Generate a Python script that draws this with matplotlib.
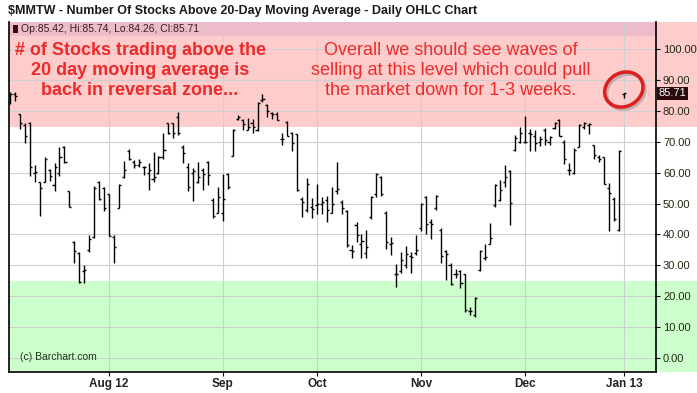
# $MMTW daily OHLC chart (Barchart style) with annotation text
import matplotlib
matplotlib.use("Agg")
import matplotlib.pyplot as plt
from matplotlib.patches import Ellipse, Rectangle

# ---- data (trading-day index 0..124, Jul 3 2012 -> Jan 2 2013)
highs = [86.2, 86.2, 79.1, 76.1, 76.5, 62.6, 57.1, 65.2, 61.3, 63.3,
         68.4, 68.7, 54.2, 37.7, 34.3, 30.0, 39.7, 55.8, 57.4, 55.5,
         53.2, 39.7, 56.5, 63.9, 67.7, 64.2, 64.5, 62.3, 63.3, 66.8,
         65.5, 73.0, 76.2, 76.2, 79.7, 68.9, 63.3, 61.6, 63.6, 61.6,
         63.9, 51.8, 55.5, 59.7, 59.8, 74.3, 78.6, 77.5, 77.9, 77.5,
         82.9, 85.7, 82.2, 79.7, 79.7, 73.0, 76.8, 73.2, 72.5, 52.0,
         58.2, 51.8, 56.3, 52.0, 52.3, 55.5, 63.6, 51.0, 48.0, 36.5,
         44.0, 40.0, 41.3, 52.3, 59.8, 59.0, 47.5, 39.1, 30.3, 34.3,
         36.1, 34.3, 39.7, 50.1, 52.3, 45.1, 52.9, 42.0, 35.0, 30.7,
         28.9, 28.6, 27.3, 16.5, 19.8, 34.8, 37.0, 43.6, 56.3, 57.6,
         62.6, 60.9, 72.3, 74.8, 78.4, 74.1, 73.8, 71.9, 74.6, 71.9,
         76.5, 77.5, 70.5, 63.3, 67.9, 75.9, 76.5, 76.2, 69.0, 65.7,
         65.2, 56.7, 52.0, 67.4, 85.74]
lows = [82.3, 83.4, 74.2, 69.8, 58.8, 56.9, 46.1, 56.9, 57.4, 54.0,
        59.0, 63.0, 48.8, 30.6, 24.2, 24.2, 34.3, 38.8, 51.0, 47.7,
        39.4, 30.6, 48.5, 58.2, 64.2, 61.6, 61.9, 59.4, 54.5, 56.9,
        59.7, 64.6, 72.5, 71.4, 72.2, 63.0, 54.0, 50.7, 56.7, 54.5,
        56.1, 45.4, 46.8, 44.3, 54.7, 65.3, 77.0, 73.8, 73.8, 73.0,
        73.5, 82.9, 78.1, 77.5, 77.0, 68.9, 71.9, 66.9, 54.2, 45.6,
        47.4, 45.4, 46.7, 46.5, 44.0, 46.9, 53.1, 46.7, 35.9, 32.2,
        37.5, 32.2, 32.5, 45.1, 52.0, 52.6, 35.4, 33.2, 23.0, 27.5,
        29.1, 27.5, 33.2, 41.1, 40.2, 38.6, 48.0, 30.7, 25.2, 23.5,
        25.7, 22.5, 14.9, 13.9, 13.1, 28.2, 31.8, 36.8, 49.0, 50.7,
        55.5, 43.2, 67.1, 69.5, 69.5, 66.9, 66.9, 68.7, 68.9, 68.9,
        74.3, 71.9, 62.8, 59.3, 59.6, 68.2, 74.1, 72.7, 64.4, 63.6,
        56.3, 41.1, 44.5, 41.1, 84.26]
opens = [83.0, 85.5, 79.0, 75.5, 76.0, 60.0, 57.0, 57.0, 61.0, 56.0,
         60.0, 68.5, 54.0, 37.5, 34.0, 28.0, 35.0, 39.0, 57.0, 55.0,
         53.0, 39.0, 48.5, 58.5, 67.0, 63.5, 62.5, 62.0, 60.0, 58.0,
         60.0, 65.0, 76.0, 76.0, 78.0, 68.5, 62.0, 60.0, 57.0, 61.0,
         63.5, 51.0, 47.0, 47.0, 59.5, 65.5, 77.5, 77.0, 74.0, 76.0,
         74.0, 83.5, 82.0, 79.5, 79.0, 71.0, 76.5, 73.0, 72.5, 51.5,
         48.0, 49.0, 49.5, 50.0, 51.0, 47.0, 54.0, 50.5, 47.5, 35.0,
         43.0, 37.0, 34.0, 45.5, 53.0, 58.5, 47.0, 37.0, 27.0, 28.0,
         30.0, 33.0, 34.0, 42.0, 52.0, 44.0, 48.5, 41.5, 34.5, 30.0,
         27.0, 28.0, 27.0, 15.0, 14.0, 28.5, 32.5, 37.0, 49.5, 51.0,
         57.0, 60.5, 67.5, 70.0, 70.0, 73.0, 72.0, 70.0, 74.0, 70.0,
         74.5, 77.0, 70.0, 61.0, 60.0, 68.5, 75.0, 75.5, 69.0, 65.0,
         65.0, 55.0, 51.5, 41.5, 85.42]
closes = [85.5, 85.0, 76.0, 72.0, 62.0, 60.1, 55.0, 64.5, 59.0, 62.0,
          65.2, 63.5, 49.0, 34.5, 24.5, 28.4, 38.4, 55.0, 51.6, 48.4,
          39.5, 35.9, 56.1, 61.0, 64.6, 62.5, 63.5, 61.9, 61.0, 58.5,
          65.0, 67.4, 73.0, 73.0, 73.0, 66.5, 55.5, 60.5, 58.5, 59.5,
          59.4, 46.0, 52.0, 51.5, 55.5, 74.0, 78.0, 75.9, 74.8, 75.0,
          82.5, 83.8, 80.0, 78.9, 77.2, 71.0, 72.0, 69.6, 54.5, 50.4,
          56.3, 48.3, 49.9, 50.5, 48.0, 49.9, 54.7, 48.6, 36.5, 34.6,
          39.7, 38.0, 35.9, 52.0, 59.5, 53.0, 37.5, 37.2, 27.1, 31.6,
          33.8, 32.7, 34.8, 50.0, 43.5, 43.4, 52.5, 33.0, 33.5, 24.0,
          27.3, 24.3, 15.5, 15.3, 19.5, 34.5, 32.7, 38.9, 56.0, 54.4,
          58.7, 50.1, 71.4, 73.0, 70.1, 72.5, 69.8, 70.9, 70.5, 71.5,
          76.0, 72.0, 64.4, 60.8, 67.5, 75.5, 76.2, 75.9, 65.7, 64.5,
          56.5, 53.4, 45.1, 67.0, 85.71]

month_pos = [20, 43, 62, 83, 104, 124]
month_labels = ["Aug 12", "Sep", "Oct", "Nov", "Dec", "Jan 13"]
y_ticks = [0, 10, 20, 30, 40, 50, 60, 70, 80, 90, 100]
last_close = closes[-1]

PINK = "#FFCCCC"
GREEN = "#CCFFCC"
RED = "#EE2A2A"

fig = plt.figure(figsize=(6.97, 3.93), dpi=100)
fig.patch.set_facecolor("white")
ax = fig.add_axes([9 / 697, 1 - 372 / 393, 647 / 697, 350 / 393])
ax.set_xlim(-0.2, 130.5)
ax.set_ylim(-4.64, 108.9)
ax.set_facecolor("white")

# zones (stretch into the label area on the right)
ext = (697 - 9) / 647
ax.axhspan(75, 108.9, xmin=0, xmax=ext, color=PINK, lw=0, clip_on=False, zorder=0)
ax.axhspan(-4.64, 25, xmin=0, xmax=ext, color=GREEN, lw=0, clip_on=False, zorder=0)

# header row with last-bar values
ax.axhspan(104.2, 108.9, color="#EDBCCB", lw=0, zorder=0.5)

# grid
for v in y_ticks:
    ax.axhline(v, color="#CFCFCF", lw=0.8, zorder=1)
for p in month_pos:
    ax.axvline(p, color="#CFCFCF", lw=0.8, zorder=1)

# OHLC bars
xs = list(range(len(highs)))
tick = 0.42
ax.vlines(xs, lows, highs, color="black", lw=1.0, zorder=3)
ax.hlines(opens, [x - tick for x in xs], xs, color="black", lw=1.0, zorder=3)
ax.hlines(closes, xs, [x + tick for x in xs], color="black", lw=1.0, zorder=3)

# axes styling
ax.spines["top"].set_visible(False)
for s in ("left", "right", "bottom"):
    ax.spines[s].set_color("black")
    ax.spines[s].set_linewidth(1.2)
ax.yaxis.tick_right()
ax.set_yticks(y_ticks)
ax.set_yticklabels([f"{v:.2f}" for v in y_ticks], fontsize=8,
                   family="Liberation Sans", color="#1E2A10")
ax.tick_params(axis="y", direction="out", length=3, width=0.8, pad=2)
ax.set_xticks(month_pos)
ax.set_xticklabels(month_labels, fontsize=8.5, family="Liberation Sans",
                   fontweight="bold", color="#222222")
ax.tick_params(axis="x", direction="out", length=3, width=0.8, pad=1.5)

# last value box
ax.text(131.0, last_close, f"{last_close:.2f}", fontsize=8, family="Liberation Sans",
        color="white", va="center", ha="left", clip_on=False, zorder=6,
        bbox=dict(boxstyle="square,pad=0.12", fc="#2A0A0A", ec="none"))

# title and header
fig.text(8 / 697, 1 - 11 / 393, "$MMTW - Number Of Stocks Above 20-Day Moving Average - Daily OHLC Chart",
         fontsize=9, family="Liberation Sans", fontweight="bold", color="#1A1A1A",
         va="center", ha="left")
ax.add_patch(Rectangle((0.6, 105.2), 1.1, 2.8, facecolor="#3A0A0A", edgecolor="none", zorder=4))
ax.text(2.3, 106.5, "Op:85.42, Hi:85.74, Lo:84.26, Cl:85.71", fontsize=7.5,
        family="Liberation Sans", color="#3A1A1A", va="center", ha="left", zorder=4)
ax.text(2.0, 0.3, "(c) Barchart.com", fontsize=7.5, family="Liberation Sans",
        color="#1E3A10", va="center", ha="left", zorder=4)

# annotations
ax.text(26.3, 102.3, "# of Stocks trading above the\n20 day moving average is\nback in reversal zone...",
        fontsize=13, family="Liberation Sans", fontweight="bold", color=RED,
        ha="center", va="top", linespacing=1.2, zorder=5)
ax.text(89.0, 102.3, "Overall we should see waves of\nselling at this level which could pull\nthe market down for 1-3 weeks.",
        fontsize=13, family="Liberation Sans", color=RED,
        ha="center", va="top", linespacing=1.2, zorder=5)

# circle around the last bar
ax.add_patch(Ellipse((124.4, 86.3), 7.6, 11.5, angle=-10, fill=False, ec="#999999",
                     lw=2.5, alpha=0.6, zorder=4))
ax.add_patch(Ellipse((124.0, 87.0), 7.6, 11.5, angle=-10, fill=False, ec="#DD1E1E",
                     lw=2.5, zorder=5))

fig.savefig("out.png", dpi=100, facecolor="white")
